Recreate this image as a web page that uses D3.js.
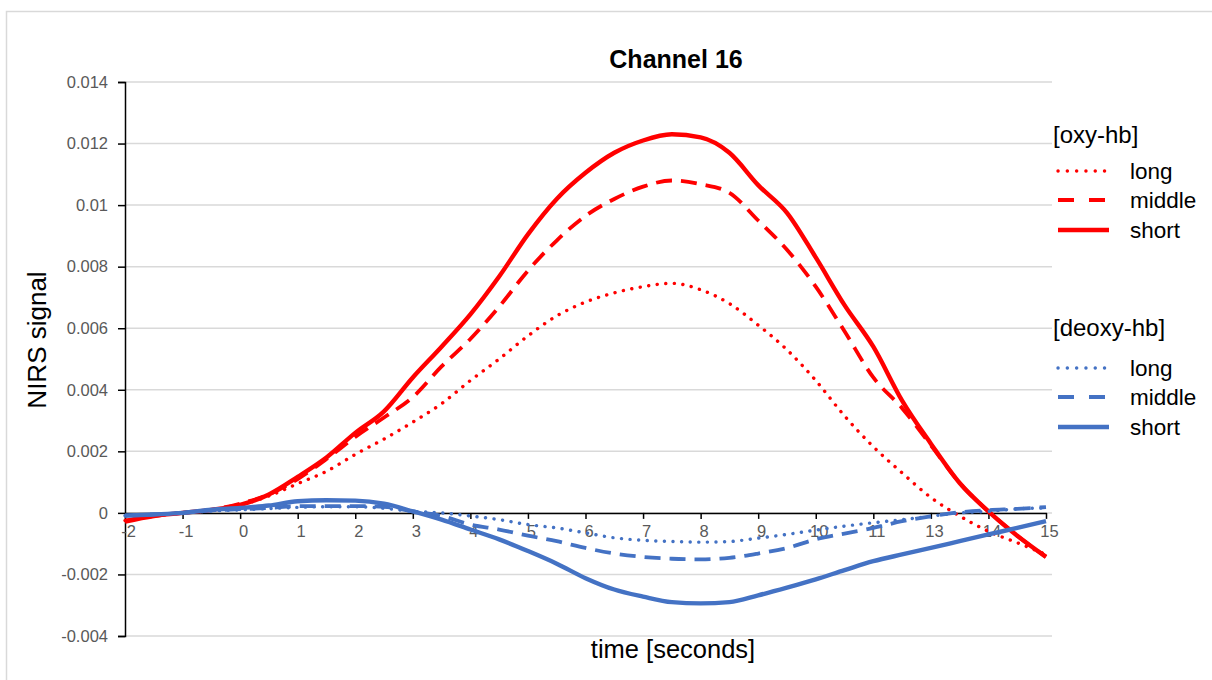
<!DOCTYPE html>
<html>
<head>
<meta charset="utf-8">
<script src="https://cdn.jsdelivr.net/npm/d3@7/dist/d3.min.js"></script>
<style>
  body { margin: 0; background: #fff; }
  text { font-family: "Liberation Sans", Arial, sans-serif; }
</style>
</head>
<body>
<div id="chart"></div>
<script>
var width = 1212, height = 680;

// x axis is a category-style axis: 17 ticks, note "12" is missing in the labels
var tickLabels = ["-2","-1","0","1","2","3","4","5","6","7","8","9","10","11","13","14","15"];
var yTicks = [-0.004, -0.002, 0, 0.002, 0.004, 0.006, 0.008, 0.01, 0.012, 0.014];

// sample positions along the axis (in tick units)
var samplePos = [0,0.5,1,1.5,2,2.5,3,3.5,4,4.5,5,5.5,6,6.5,7,7.5,8,8.5,9,9.5,10,10.5,11,11.5,12,12.5,13,13.5,14,14.5,15,15.5,16];

// [oxy-hb]
var oxyLong   = [-0.00025,-0.0001,0,0.0001,0.00025,0.00055,0.00095,0.00135,0.0019,0.0024,0.00295,0.00355,0.0043,0.005,0.00575,0.0064,0.00685,0.00715,0.00735,0.00746,0.00725,0.0068,0.0061,0.0053,0.0043,0.00315,0.00215,0.0013,0.0005,-0.0001,-0.0006,-0.00097,-0.00135];
var oxyMiddle = [-0.00025,-0.0001,0,0.0001,0.0003,0.0006,0.0011,0.00175,0.00247,0.0031,0.00376,0.00476,0.00565,0.0067,0.00787,0.00885,0.00965,0.0102,0.0106,0.0108,0.01068,0.0104,0.0095,0.00855,0.00735,0.0059,0.0044,0.0034,0.0022,0.00097,0.00005,-0.00074,-0.00143];
var oxyShort  = [-0.00028,-0.0001,0,0.0001,0.00026,0.0006,0.00117,0.0018,0.0026,0.0033,0.0044,0.0054,0.00645,0.00768,0.00905,0.0102,0.01105,0.0117,0.0121,0.0123,0.0122,0.0117,0.01065,0.00975,0.0083,0.00675,0.0054,0.00365,0.00225,0.00097,0.00005,-0.00074,-0.00143];

// [deoxy-hb]
var deoxyLong   = [-0.00009,-0.00005,0,0.00006,0.0001,0.00014,0.00018,0.0002,0.0002,0.00015,0.00005,0,-0.0001,-0.00022,-0.00038,-0.00049,-0.00065,-0.00081,-0.00089,-0.00093,-0.00095,-0.00093,-0.00082,-0.0007,-0.00056,-0.00043,-0.00032,-0.00022,-0.00011,0,0.00005,0.00013,0.00016];
var deoxyMiddle = [-0.00009,-0.00005,0,0.00008,0.00012,0.00016,0.00022,0.00022,0.00022,0.0002,0.00005,-0.0001,-0.00038,-0.00054,-0.00074,-0.00092,-0.00114,-0.00132,-0.00143,-0.00149,-0.00151,-0.00146,-0.00132,-0.00114,-0.00086,-0.00067,-0.00049,-0.00027,-0.00011,0.00002,0.00009,0.00013,0.00019];
var deoxyShort  = [-0.00009,-0.00005,0,0.0001,0.00016,0.00024,0.00038,0.00041,0.0004,0.0003,0.00005,-0.00022,-0.00054,-0.00086,-0.00124,-0.00165,-0.00212,-0.00249,-0.00272,-0.0029,-0.00294,-0.0029,-0.00268,-0.00243,-0.00216,-0.00186,-0.00157,-0.00135,-0.00114,-0.00092,-0.0007,-0.00049,-0.00027];

var red = "#ff0000", blue = "#4472c4";
var styles = {
  long:   {dash: "0.1,8.5", w: 3.4},
  middle: {dash: "16,9",    w: 3.8},
  short:  {dash: null,      w: 4.4}
};

var series = [
  {name: "long",   vals: oxyLong,     color: red},
  {name: "middle", vals: oxyMiddle,   color: red},
  {name: "short",  vals: oxyShort,    color: red},
  {name: "long",   vals: deoxyLong,   color: blue},
  {name: "middle", vals: deoxyMiddle, color: blue},
  {name: "short",  vals: deoxyShort,  color: blue}
];

var svg = d3.select("#chart").append("svg")
  .attr("width", width)
  .attr("height", height);

// outer frame
svg.append("rect")
  .attr("x", 6.5).attr("y", 11.5)
  .attr("width", width).attr("height", height)
  .attr("fill", "none")
  .attr("stroke", "#d9d9d9")
  .attr("stroke-width", 1.5);

var x = d3.scaleLinear().domain([0, 16]).range([125, 1046]);
var y = d3.scaleLinear().domain([-0.004, 0.014]).range([636, 82]);

// gridlines
svg.append("g").selectAll("line")
  .data(yTicks)
  .enter().append("line")
  .attr("x1", 125).attr("x2", 1052)
  .attr("y1", function(d){ return y(d); })
  .attr("y2", function(d){ return y(d); })
  .attr("stroke", "#d9d9d9")
  .attr("stroke-width", 1.5);

// y axis (plain hyphen for negatives, like the original)
var yAxis = svg.append("g")
  .attr("transform", "translate(125,0)")
  .call(d3.axisLeft(y).tickValues(yTicks).tickSize(7).tickPadding(10)
    .tickFormat(function(d){ return String(+d.toFixed(4)); }));
yAxis.select(".domain").attr("stroke", "#000").attr("stroke-width", 1.5);
yAxis.selectAll(".tick line").attr("stroke", "#000").attr("stroke-width", 1.5);
yAxis.selectAll(".tick text")
  .attr("font-size", 16.5)
  .attr("fill", "#595959")
  .attr("font-family", "Liberation Sans, Arial, sans-serif");

// x axis sits on the zero line
var xAxis = svg.append("g")
  .attr("transform", "translate(0," + y(0) + ")")
  .call(d3.axisBottom(x).tickValues(d3.range(tickLabels.length)).tickSize(6).tickSizeOuter(0).tickPadding(6)
    .tickFormat(function(d, i){ return tickLabels[i]; }));
xAxis.select(".domain").attr("stroke", "#000").attr("stroke-width", 1.5);
xAxis.selectAll(".tick line").attr("stroke", "#000").attr("stroke-width", 1.5);
xAxis.selectAll(".tick text")
  .attr("font-size", 16.5)
  .attr("dx", 3)
  .attr("fill", "#595959")
  .attr("font-family", "Liberation Sans, Arial, sans-serif");

// lines
var line = d3.line()
  .x(function(d, i){ return x(samplePos[i]); })
  .y(function(d){ return y(d); })
  .curve(d3.curveMonotoneX);

svg.append("g").selectAll("path")
  .data(series)
  .enter().append("path")
  .attr("d", function(d){ return line(d.vals); })
  .attr("fill", "none")
  .attr("stroke", function(d){ return d.color; })
  .attr("stroke-width", function(d){ return styles[d.name].w; })
  .attr("stroke-dasharray", function(d){ return styles[d.name].dash; })
  .attr("stroke-linecap", function(d){ return d.name == "long" ? "round" : "butt"; })
  .attr("stroke-linejoin", "round");

// titles
svg.append("text")
  .text("Channel 16")
  .attr("x", 676).attr("y", 68)
  .attr("text-anchor", "middle")
  .attr("font-weight", "bold")
  .attr("font-size", 25);

svg.append("text")
  .text("time [seconds]")
  .attr("x", 673).attr("y", 658)
  .attr("text-anchor", "middle")
  .attr("font-size", 25.5);

svg.append("text")
  .text("NIRS signal")
  .attr("transform", "translate(46,340) rotate(-90)")
  .attr("text-anchor", "middle")
  .attr("font-size", 26);

// legend
var legendGroups = [
  {title: "[oxy-hb]",   color: red,  ty: 143, rows: [171, 200, 230]},
  {title: "[deoxy-hb]", color: blue, ty: 336, rows: [368, 397, 427]}
];
var legendDash = {long: "0.1,9.2", middle: "16,15", short: null};
var rowNames = ["long", "middle", "short"];

legendGroups.forEach(function(g){
  svg.append("text")
    .text(g.title)
    .attr("x", 1053).attr("y", g.ty)
    .attr("font-size", 24);
  rowNames.forEach(function(n, i){
    svg.append("line")
      .attr("x1", 1058).attr("x2", 1109)
      .attr("y1", g.rows[i]).attr("y2", g.rows[i])
      .attr("stroke", g.color)
      .attr("stroke-width", styles[n].w)
      .attr("stroke-dasharray", legendDash[n])
      .attr("stroke-linecap", n == "long" ? "round" : "butt");
    svg.append("text")
      .text(n)
      .attr("x", 1130).attr("y", g.rows[i] + 8)
      .attr("font-size", 22.5);
  });
});
</script>
</body>
</html>
